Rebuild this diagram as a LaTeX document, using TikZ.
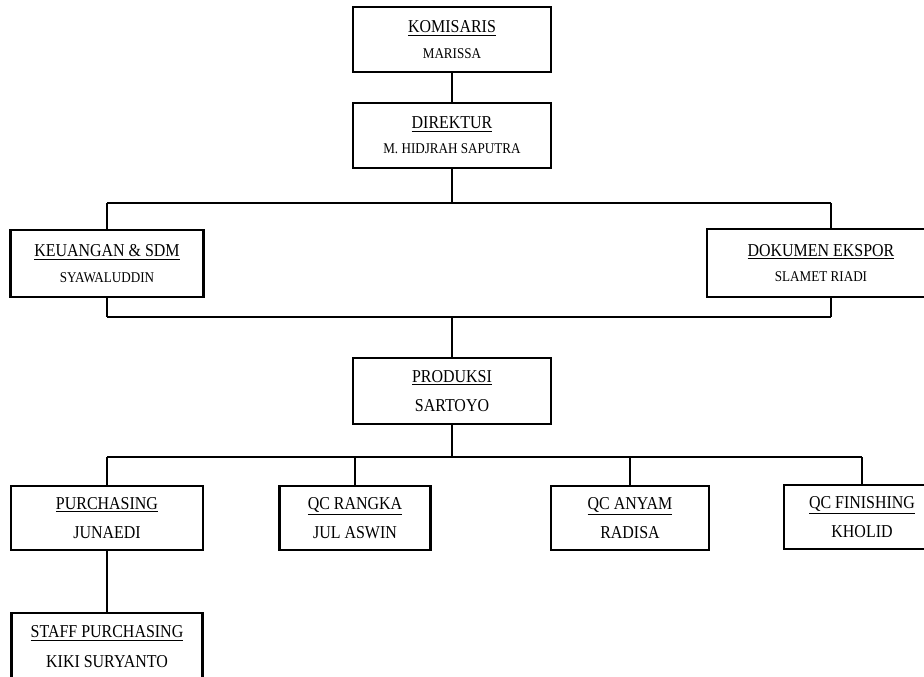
\documentclass[tikz,border=0pt]{standalone}
\usepackage{fontspec}
\setmainfont{Liberation Serif}[FakeStretch=0.88]
\usepackage{tikz}

\newcommand{\headtxt}[2]{{\fontsize{12.9}{14}\selectfont\underline{#1}}\\{\fontsize{12.9}{14}\selectfont #2}}
\newcommand{\toptxt}[2]{{\fontsize{12.9}{14}\selectfont\underline{#1}}\\{\fontsize{10.6}{12}\selectfont #2}}

\begin{document}
\begin{tikzpicture}[x=0.025cm, y=-0.025cm,
	box/.style={draw, line width=2pt, fill=white, align=center, inner sep=0pt},
	upper/.style={box, font=\fontsize{12.9}{18}\selectfont},
	lower/.style={box, font=\fontsize{12.9}{21}\selectfont},
	link/.style={line width=1.1pt},
	bus/.style={line width=2pt}]

\useasboundingbox (0,0) rectangle (924,676);

\node[upper, minimum width=4.95cm, minimum height=1.625cm] (kom) at (452,39.5) {\toptxt{KOMISARIS}{MARISSA}};
\node[upper, minimum width=4.95cm, minimum height=1.625cm] (dir) at (452,135.5) {\toptxt{DIREKTUR}{M. HIDJRAH SAPUTRA}};

\node[upper, minimum width=4.825cm, minimum height=1.675cm] (keu) at (107,263.5) {\toptxt{KEUANGAN \& SDM}{SYAWALUDDIN}};
\node[upper, minimum width=5.7cm, minimum height=1.7cm] (dok) at (821,263) {\toptxt{DOKUMEN EKSPOR}{SLAMET RIADI}};
\coordinate (dokTap) at (831,263);

\node[lower, minimum width=4.95cm, minimum height=1.65cm] (prod) at (452,391) {\headtxt{PRODUKSI}{SARTOYO}};

\node[lower, minimum width=4.8cm, minimum height=1.6cm] (pur) at (107,518) {\headtxt{PURCHASING}{JUNAEDI}};
\node[lower, minimum width=3.775cm, minimum height=1.6cm] (qcr) at (355,518) {\headtxt{QC RANGKA}{JUL ASWIN}};
\node[lower, minimum width=3.95cm, minimum height=1.6cm] (qca) at (630,518) {\headtxt{QC ANYAM}{RADISA}};
\node[lower, minimum width=3.9cm, minimum height=1.6cm] (qcf) at (862,517) {\headtxt{QC FINISHING}{KHOLID}};

\node[lower, minimum width=4.775cm, minimum height=1.675cm] (staff) at (107,646.5) {\headtxt{STAFF PURCHASING}{KIKI SURYANTO}};

\coordinate (busA) at (452,203);
\coordinate (busB) at (452,317);
\coordinate (busC) at (452,457);

\draw[link] (kom) -- (dir);
\draw[link] (dir) -- (busA);
\draw[link] (keu.north) -- (keu.north |- busA);
\draw[link] (dokTap |- dok.north) -- (dokTap |- busA);
\draw[bus] (keu.north |- busA) -- (dokTap |- busA);

\draw[link] (keu.south) -- (keu.south |- busB);
\draw[link] (dokTap |- dok.south) -- (dokTap |- busB);
\draw[bus] (keu.south |- busB) -- (dokTap |- busB);
\draw[link] (busB) -- (prod);

\draw[link] (prod) -- (busC);
\foreach \n in {pur,qcr,qca,qcf}
	\draw[link] (\n.north) -- (\n.north |- busC);
\draw[bus] (pur.north |- busC) -- (qcf.north |- busC);

\draw[link] (pur) -- (staff);

\end{tikzpicture}
\end{document}
